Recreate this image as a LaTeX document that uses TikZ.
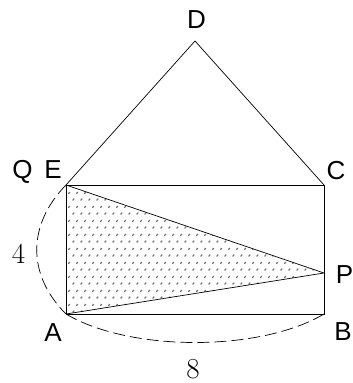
\documentclass[tikz,border=0pt]{standalone}
\usepackage{fontspec}
\setsansfont{Liberation Sans}
\usetikzlibrary{patterns.meta}
\tikzdeclarepattern{
  name=sdots,
  type=uncolored,
  bottom left={(0pt,0pt)},
  top right={(8pt,14pt)},
  tile size={(8pt,14pt)},
  code={
    \draw[line width=1.4pt, line cap=round] (1pt,1pt) -- (2.3pt,2.3pt);
    \draw[line width=1.4pt, line cap=round] (5pt,8pt) -- (6.3pt,9.3pt);
  }
}
\tikzset{
  edge/.style={line width=0.7pt},
  arcdash/.style={line width=0.7pt, dash pattern=on 12pt off 5pt},
  ptlabel/.style={font=\sffamily\fontsize{26}{26}\selectfont, anchor=base, inner sep=0pt},
  numlabel/.style={font=\rmfamily\fontsize{29}{29}\selectfont, anchor=base, inner sep=0pt},
}
\begin{document}
\begin{tikzpicture}[x=1pt,y=-1pt]
\useasboundingbox (0,0) rectangle (353,383);
\coordinate (A) at (66,314);
\coordinate (B) at (324,314);
\coordinate (C) at (324,185);
\coordinate (E) at (66,185);
\coordinate (D) at (195,41);
\coordinate (P) at (324,273);
% shaded triangle
\fill[pattern=sdots, pattern color=black!55] (E) -- (A) -- (P) -- cycle;
% edges
\draw[edge] (A) -- (B) -- (C) -- (E) -- cycle;
\draw[edge] (E) -- (D) -- (C);
\draw[edge] (E) -- (P) -- (A);
% dashed arcs
\draw[arcdash] (E) .. controls (27,225) and (27,275) .. (A);
\draw[arcdash] (A) .. controls (130,352) and (260,352) .. (B);
% labels
\node[ptlabel] (lD) at (196.5,28) {D};
\node[ptlabel] (lQ) at (22.5,178) {Q};
\node[ptlabel] (lE) at (53,178) {E};
\node[ptlabel] (lC) at (336,179.5) {C};
\node[ptlabel] (lP) at (344.5,283) {P};
\node[ptlabel] (lB) at (343,340) {B};
\node[ptlabel] (lA) at (53,341) {A};
\node[numlabel] (l4) at (18.5,263) {4};
\node[numlabel] (l8) at (193,378.5) {8};
\end{tikzpicture}
\end{document}
